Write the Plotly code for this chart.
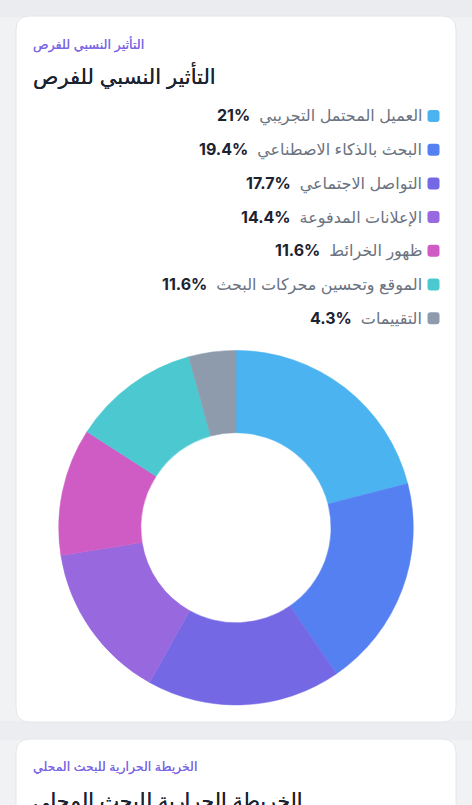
import plotly.graph_objects as go

W, H = 472, 805

labels = ["العميل المحتمل التجريبي", "البحث بالذكاء الاصطناعي", "التواصل الاجتماعي",
          "الإعلانات المدفوعة", "ظهور الخرائط", "الموقع وتحسين محركات البحث", "التقييمات"]
values = [21, 19.4, 17.7, 14.4, 11.6, 11.6, 4.3]
colors = ["#4BB3F0", "#5580F2", "#7468E4", "#9768DE", "#CE5CC4", "#4BC8D0", "#8E9BAD"]

eyebrow = "التأثير النسبي للفرص"
title = "التأثير النسبي للفرص"
eyebrow2 = "الخريطة الحرارية للبحث المحلي"
title2 = "الخريطة الحرارية للبحث المحلي"

FONT = "Inter, 'Noto Sans', 'DejaVu Sans', sans-serif"


def px(x):
    return x / W


def py(y):
    return 1 - y / H


def card(x0, y0, x1, y1, r=14):
    return dict(
        type="path", xref="paper", yref="paper", layer="below",
        path=(f"M {px(x0 + r)} {py(y0)} L {px(x1 - r)} {py(y0)} "
              f"Q {px(x1)} {py(y0)} {px(x1)} {py(y0 + r)} L {px(x1)} {py(y1 - r)} "
              f"Q {px(x1)} {py(y1)} {px(x1 - r)} {py(y1)} L {px(x0 + r)} {py(y1)} "
              f"Q {px(x0)} {py(y1)} {px(x0)} {py(y1 - r)} L {px(x0)} {py(y0 + r)} "
              f"Q {px(x0)} {py(y0)} {px(x0 + r)} {py(y0)} Z"),
        fillcolor="white", line=dict(color="#E4E6EA", width=1),
    )


def band(y0, y1, color):
    return dict(type="rect", xref="paper", yref="paper", layer="below",
                x0=0, x1=1, y0=py(y1), y1=py(y0), fillcolor=color, line=dict(width=0))


def text(x, y, s, size, color, anchor="left", shadow="none"):
    return dict(xref="paper", yref="paper", x=px(x), y=py(y), text=s, showarrow=False,
                xanchor=anchor, yanchor="middle", align=anchor,
                font=dict(family=FONT, size=size, color=color, shadow=shadow))


shapes = [band(0, 17, "#EAECEF"), band(721, 740, "#EBEDF0"),
          card(16, 16, 456, 722), card(16, 739, 456, 900)]
annotations = [
    text(31, 45, eyebrow, 12.8, "#7B68E6", shadow="0 0 0.5px #7B68E6"),
    text(31, 76, title, 21, "#1B2230", shadow="0 0 0.6px #1B2230"),
    text(31, 767, eyebrow2, 12.5, "#7B68E6", shadow="0 0 0.5px #7B68E6"),
    text(31, 800, title2, 20.5, "#1B2230", shadow="0 0 0.6px #1B2230"),
]

row_y = 116
for name, val, col in zip(labels, values, colors):
    shapes.append(card(427.5, row_y - 6, 439.5, row_y + 6, r=3))
    shapes[-1].update(fillcolor=col, line=dict(width=0))
    annotations.append(text(424, row_y, f"<b style='color:#1B2230'>{val}%</b>  <span style='color:#6B7280'>{name}</span>",
                            16, "#6B7280", anchor="right"))
    row_y += 33.7

donut = go.Pie(
    labels=labels, values=values, hole=0.536, sort=False, direction="clockwise", rotation=0,
    marker=dict(colors=colors, line=dict(width=0.5, color=colors)), textinfo="none", showlegend=False,
    domain=dict(x=[px(58.7), px(413.3)], y=[py(705), py(350.4)]),
)

fig = go.Figure(data=[donut])
fig.update_layout(
    width=W, height=H, margin=dict(l=0, r=0, t=0, b=0),
    paper_bgcolor="#F1F2F4", shapes=shapes, annotations=annotations,
)
fig.write_html("out.html", config=dict(displayModeBar=False),
               post_script="document.body.style.margin='0';document.body.style.overflow='hidden';")
